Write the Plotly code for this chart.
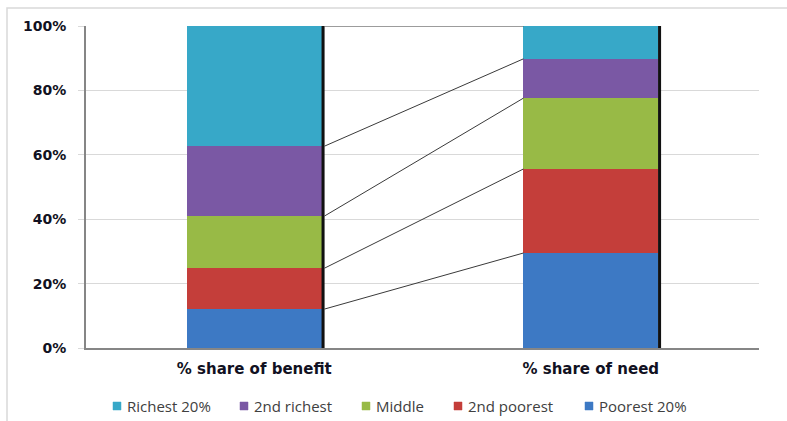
import plotly.graph_objects as go
import numpy as np

categories = ["% share of benefit", "% share of need"]
groups = ["Poorest 20%", "2nd poorest", "Middle", "2nd richest", "Richest 20%"]
benefit = [12.1, 12.7, 16.2, 21.7, 37.3]
need = [29.5, 26.1, 22.0, 12.2, 10.2]
colors = ["#3d79c4", "#c43e3a", "#98ba46", "#7a58a4", "#37a8c8"]
y_ticks = [0, 20, 40, 60, 80, 100]

x_pos = [0, 1]
bar_w = 0.4

# plot-area geometry in pixels (used to place the legend and frame)
W, H = 787, 421
L, R, T, B = 86, 28, 26, 73
pw, ph = W - L - R, H - T - B


def px_x(px):
    return (px - L) / pw


def px_y(py):
    return (H - B - py) / ph


fig = go.Figure()

for i, name in enumerate(groups):
    fig.add_trace(go.Bar(
        x=x_pos, y=[benefit[i], need[i]], name=name,
        width=bar_w, marker=dict(color=colors[i], line=dict(width=0)),
        showlegend=False,
    ))

# Series lines joining the segment boundaries of the two stacks
cum_b = np.cumsum(benefit)
cum_n = np.cumsum(need)
for yb, yn in zip(cum_b, cum_n):
    fig.add_trace(go.Scatter(
        x=[x_pos[0] + bar_w / 2 + 0.009, x_pos[1] - bar_w / 2], y=[yb, yn],
        mode="lines", line=dict(color="#3a3a3a", width=1),
        showlegend=False, hoverinfo="skip",
    ))

# Dark drop shadow along the right edge of each stack
for xp, tot in zip(x_pos, [cum_b[-1], cum_n[-1]]):
    fig.add_shape(type="rect", xref="x", yref="y",
                  x0=xp + bar_w / 2, x1=xp + bar_w / 2 + 0.009, y0=0, y1=tot,
                  fillcolor="#111111", line=dict(width=0), layer="above")

# Light outer chart frame
fig.add_shape(type="rect", xref="paper", yref="paper",
              x0=px_x(7), x1=px_x(800), y0=px_y(440), y1=px_y(8),
              line=dict(color="#d9d9d9", width=1.5), fillcolor="rgba(0,0,0,0)",
              layer="below")

# Legend: small square swatches followed by the series name (richest first)
legend_x = [113, 240, 362, 454, 585]
legend_y = 406
annotations = []
for k, i in enumerate(reversed(range(len(groups)))):
    x0 = legend_x[k]
    fig.add_shape(type="rect", xref="paper", yref="paper",
                  x0=px_x(x0), x1=px_x(x0 + 8),
                  y0=px_y(legend_y + 4), y1=px_y(legend_y - 4),
                  fillcolor=colors[i], line=dict(color=colors[i], width=0.5))
    annotations.append(dict(
        x=px_x(x0 + 12), y=px_y(legend_y), xref="paper", yref="paper",
        xanchor="left", yanchor="middle", showarrow=False, text=groups[i],
        font=dict(family="Open Sans", size=15, color="#404040"),
    ))

fig.update_layout(
    barmode="stack",
    width=W, height=H,
    margin=dict(l=L, r=R, t=T, b=B, autoexpand=False),
    paper_bgcolor="white", plot_bgcolor="white",
    bargap=0,
    showlegend=False,
    annotations=annotations,
    xaxis=dict(
        range=[-0.5, 1.5], tickvals=x_pos, ticktext=categories,
        showgrid=False, showline=True, linecolor="#868686", linewidth=2,
        ticks="", zeroline=False, ticklabelstandoff=6,
        tickfont=dict(family="DejaVu Sans", size=15, color="#111122", weight="bold"),
    ),
    yaxis=dict(
        range=[0, 100], tickvals=y_ticks,
        ticktext=[f"{v}%" for v in y_ticks],
        showgrid=True, gridcolor="#d9d9d9", gridwidth=1,
        showline=True, linecolor="#868686", linewidth=2,
        ticks="outside", ticklen=6, tickcolor="#d9d9d9",
        ticklabelstandoff=9, zeroline=False,
        tickfont=dict(family="DejaVu Sans", size=14, color="#111122", weight="bold"),
    ),
)

fig.write_html("out.html")
